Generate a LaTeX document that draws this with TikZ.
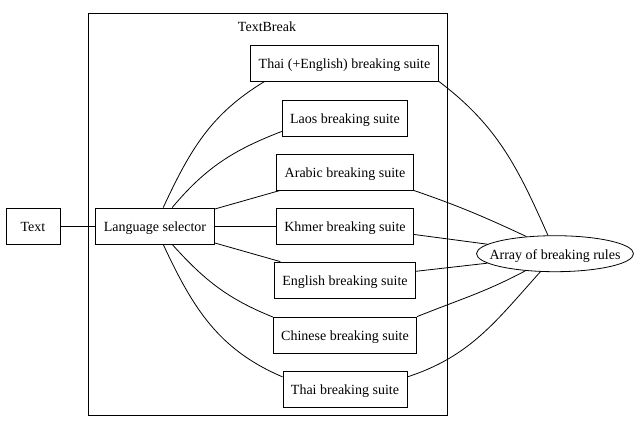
\documentclass[tikz,border=0pt]{standalone}
\usepackage{fontspec}
\setmainfont{Liberation Serif}
\usetikzlibrary{shapes.geometric}

\begin{document}
\begin{tikzpicture}[x=1pt,y=1pt,line width=0.8pt,
    font=\fontsize{14pt}{16pt}\selectfont,
    box/.style={draw,rectangle,minimum width=54pt,minimum height=36pt,
      inner xsep=8pt,inner ysep=0pt,text height=14pt,text depth=2.8pt},
    rules/.style={draw,ellipse,minimum width=156pt,minimum height=36pt,
      inner xsep=-10pt,inner ysep=0pt,text height=14pt,text depth=2.8pt}]
    \useasboundingbox (0,0) rectangle (640,437);

    \draw (88,22) rectangle (447,424);
    \node [anchor=center] (textbreak) at (267,410) {TextBreak};

    \node [box] (text) at (33,211) {Text};
    \node [box] (selector) at (155,211) {Language selector};

    \node [box] (thaien) at (344.5,374) {Thai (+English) breaking suite};
    \node [box] (laos) at (345,319) {Laos breaking suite};
    \node [box] (arabic) at (345,265) {Arabic breaking suite};
    \node [box] (khmer) at (345,211) {Khmer breaking suite};
    \node [box] (english) at (345,157) {English breaking suite};
    \node [box] (chinese) at (345,102) {Chinese breaking suite};
    \node [box] (thai) at (345,48) {Thai breaking suite};

    \node [rules] (array) at (555,183.3) {Array of breaking rules};

    \draw (text) -- (selector);

    \draw (selector.66) to[out=65,in=211] (thaien.193);
    \draw (selector.47) to[out=50,in=201] (laos.192);
    \draw (selector) -- (arabic);
    \draw (selector) -- (khmer);
    \draw (selector) -- (english);
    \draw (selector.-47) to[out=-48,in=158] (chinese.166);
    \draw (selector.-66) to[out=-65,in=157] (thai.169);

    \draw (thaien.-11.5) to[out=-37,in=114] (array.111);
    \draw (arabic.south east) to[out=-19,in=155] (array.149);
    \draw (khmer.-7.5) -- (array.172);
    \draw (english.7.5) -- (array.188);
    \draw (chinese.north east) to[out=22,in=208] (array.210);
    \draw (thai.11) to[out=18,in=228] (array.231);
\end{tikzpicture}
\end{document}
